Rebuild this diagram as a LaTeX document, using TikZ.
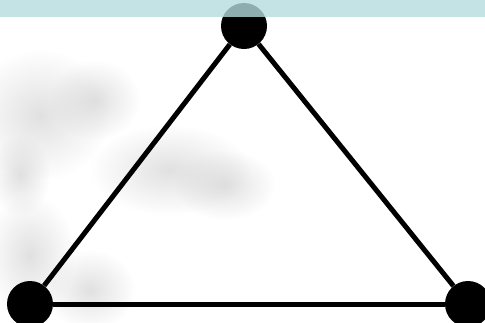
\documentclass[tikz,border=0pt]{standalone}
\usetikzlibrary{fadings}
\tikzfading[name=blobfade, inner color=transparent!40, outer color=transparent!100]
\definecolor{bandteal}{RGB}{181,220,222}
\definecolor{blobgray}{RGB}{205,205,205}
\tikzset{
  vertex/.style={circle, fill=black, minimum size=46pt, inner sep=0pt},
  edge/.style={line width=5pt, black},
  blob/.style={fill=blobgray, path fading=blobfade}
}
\begin{document}
\begin{tikzpicture}[x=1pt,y=-1pt]
\useasboundingbox (0,0) rectangle (485,322);
\fill[white] (0,0) rectangle (485,322);
% blurred background blobs
\fill[blob] (40,115) ellipse (70 and 65);
\fill[blob] (95,100) ellipse (45 and 40);
\fill[blob] (170,170) ellipse (80 and 45);
\fill[blob] (225,185) ellipse (50 and 35);
\fill[blob] (30,255) ellipse (45 and 60);
\fill[blob] (90,290) ellipse (45 and 40);
\fill[blob] (20,175) ellipse (30 and 40);
% graph
\node[vertex] (top) at (244,26) {};
\node[vertex] (bl) at (30,304) {};
\node[vertex] (br) at (468,304) {};
\draw[edge] (top) -- (bl);
\draw[edge] (top) -- (br);
\draw[edge] (bl) -- (br);
% top band
\fill[bandteal, opacity=0.79] (0,0) rectangle (485,17);
\end{tikzpicture}
\end{document}
